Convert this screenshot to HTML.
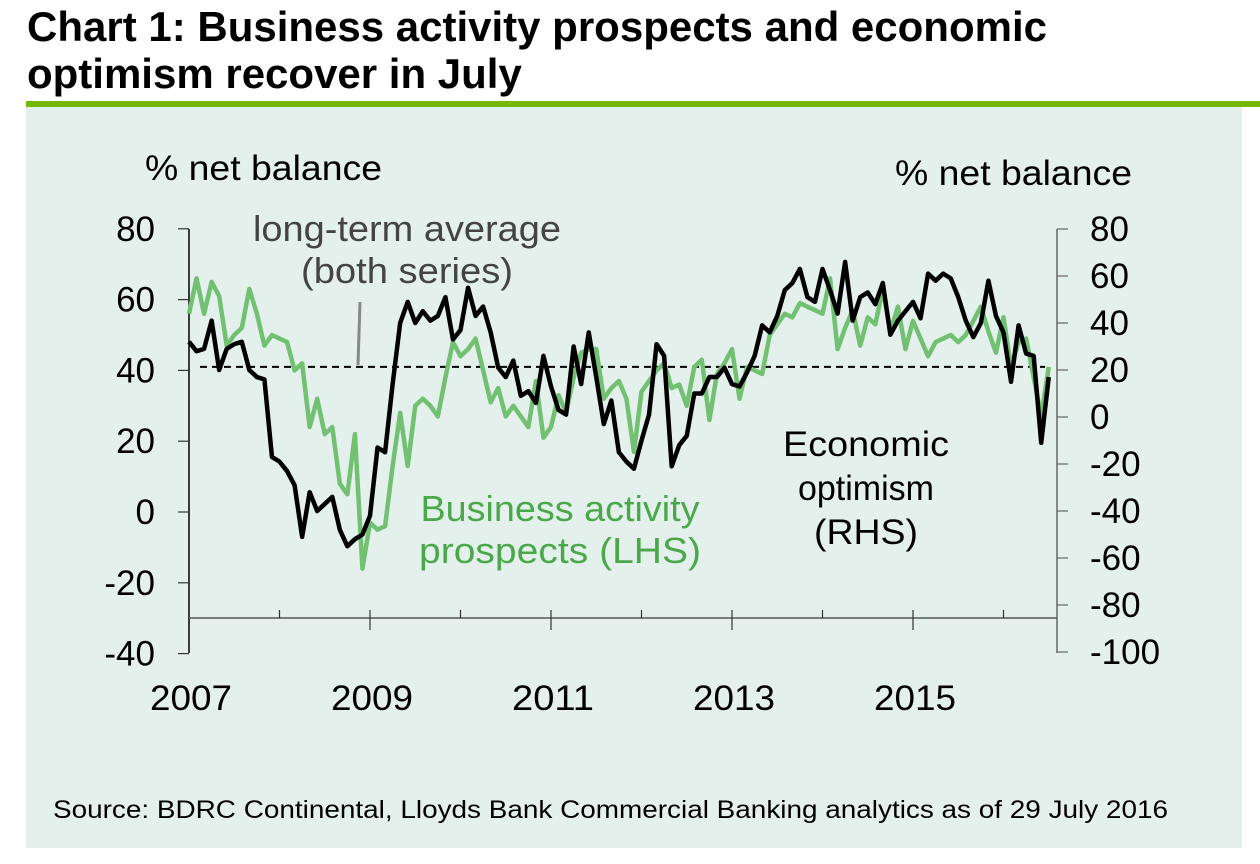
<!DOCTYPE html>
<html><head><meta charset="utf-8"><style>
body{margin:0;width:1260px;height:864px;background:#fff;overflow:hidden;font-family:"Liberation Sans",Arial,sans-serif}
#title{position:absolute;left:27px;top:3px;font-size:42px;font-weight:bold;line-height:47px;color:#000;white-space:nowrap}
#rule{position:absolute;left:26px;top:101px;width:1234px;height:6px;background:#74b800}
#panel{position:absolute;left:26px;top:107px;width:1216px;height:741px;background:#e4f0ec}
svg{position:absolute;left:0;top:0}
</style></head><body>
<div id="title">Chart 1: Business activity prospects and economic<br>optimism recover in July</div>
<div id="rule"></div>
<div id="panel"></div>
<svg id="chart" width="1260" height="864" font-family="Liberation Sans, Arial, sans-serif"></svg>
<script>
const years=["2007","2009","2011","2013","2015"];
const leftTicks=[80,60,40,20,0,-20,-40];
const rightTicks=[80,60,40,20,0,-20,-40,-60,-80,-100];
const businessProspects=[56,66,56,65,61,47,50,52,63,56,47,50,49,48,40,42,24,32,22,24,8,5,22,-16,-3,-5,-4,13,28,13,30,32,30,27,38,48,44,46,49,40,31,35,27,30,27,24,37,21,24,33,28,38,45,46,46,32,35,37,32,17,34,37,40,42,35,36,30,41,43,26,39,42,46,32,41,40,39,50,53,56,55,59,58,57,56,66,46,52,57,47,55,53,63,51,58,46,54,49,44,48,49,50,48,50,54,58,51,45,55,41,48,49,38,27,41];
const economicOptimism=[32,28,29,41,20,29,31,32,20,17,16,-17,-19,-23,-29,-51,-32,-40,-37,-34,-48,-55,-52,-50,-42,-13,-15,14,40,49,40,45,41,43,51,33,37,55,43,47,36,21,17,24,9,11,6,26,13,3,1,30,14,36,17,-3,7,-15,-19,-22,-10,1,31,26,-21,-12,-8,10,10,17,17,21,14,13,19,26,39,36,43,54,57,63,51,49,63,54,44,66,41,51,53,48,57,35,41,45,49,42,61,58,61,59,51,41,34,40,58,43,36,15,39,27,26,-11,17];
const longTermAverage=[41];
const NS="http://www.w3.org/2000/svg";
const svg=document.getElementById('chart');
const X0=189,PXY=90.5,XR=1057;
const xm=i=>X0+i*PXY/12;
const xy=y=>X0+(y-2007)*PXY;
const yL=v=>512-v*3.54;
const yR=v=>417-v*2.35;
function el(t,a,txt){const e=document.createElementNS(NS,t);for(const k in a)e.setAttribute(k,a[k]);if(txt!==undefined)e.textContent=txt;svg.appendChild(e);return e;}
let a=el('line',{x1:X0,y1:229,x2:X0,y2:653,stroke:'#000','stroke-width':1.5});


a=el('line',{x1:XR,y1:229,x2:XR,y2:653,stroke:'#666','stroke-width':1.5});


a=el('line',{x1:X0,y1:618,x2:XR,y2:618,stroke:'#555','stroke-width':1.5});


leftTicks.forEach(v=>{
  el('line',{x1:178,y1:yL(v),x2:X0,y2:yL(v),stroke:'#333','stroke-width':1.2});
  const t=el('text',{x:155,y:yL(v)+12,'text-anchor':'end','font-size':35},String(v));
  
  
});
rightTicks.forEach(v=>{
  el('line',{x1:XR,y1:yR(v),x2:1068,y2:yR(v),stroke:'#666','stroke-width':1.2});
  const t=el('text',{x:1090,y:yR(v)+12,'font-size':35},String(v));
  
  
});
for(let y=2008;y<=2016;y++){
  const odd=y%2===1;
  el('line',{x1:xy(y),y1:610,x2:xy(y),y2:odd?630:618,stroke:'#333','stroke-width':1.2});
}
years.forEach(y=>{
  const t=el('text',{x:xy(+y)+2,y:710,'text-anchor':'middle','font-size':35,textLength:82,lengthAdjust:'spacingAndGlyphs'},y);
  
  
});
a=el('line',{x1:200,y1:yL(longTermAverage[0]),x2:1045,y2:yL(longTermAverage[0]),stroke:'#000','stroke-width':2,'stroke-dasharray':'7,5'});


a=el('line',{x1:360,y1:302,x2:358,y2:365,stroke:'#888','stroke-width':3});


let p=el('polyline',{points:businessProspects.map((v,i)=>xm(i)+','+yL(v)).join(' '),fill:'none',stroke:'#72c072','stroke-width':4.5,'stroke-linejoin':'round'});


p=el('polyline',{points:economicOptimism.map((v,i)=>xm(i)+','+yR(v)).join(' '),fill:'none',stroke:'#000','stroke-width':4.5,'stroke-linejoin':'round'});


function lab(x,y,s,txt,fill,anchor,name,len){const at={x:x,y:y,'font-size':s,fill:fill,'text-anchor':anchor};if(len){at.textLength=len;at.lengthAdjust='spacingAndGlyphs';}const t=el('text',at,txt);}
lab(145,180,35,'% net balance','#000','start','left-axis-title',237);
lab(895,185,35,'% net balance','#000','start','right-axis-title',237);
lab(407,241,36,'long-term average','#444','middle','average-label-line1',308);
lab(407,283,36,'(both series)','#444','middle','average-label-line2',212);
lab(560,521,36,'Business activity','#4aa84a','middle','business-label-line1',279);
lab(560,563,36,'prospects  (LHS)','#4aa84a','middle','business-label-line2',282);
lab(866,456,35,'Economic','#000','middle','optimism-label-line1',166);
lab(866,500,35,'optimism','#000','middle','optimism-label-line2',136);
lab(866,544,35,'(RHS)','#000','middle','optimism-label-line3',104);
lab(53,818,25,'Source: BDRC Continental, Lloyds Bank Commercial Banking analytics as of 29 July 2016','#000','start','source-note',1115);
</script>
</body></html>
